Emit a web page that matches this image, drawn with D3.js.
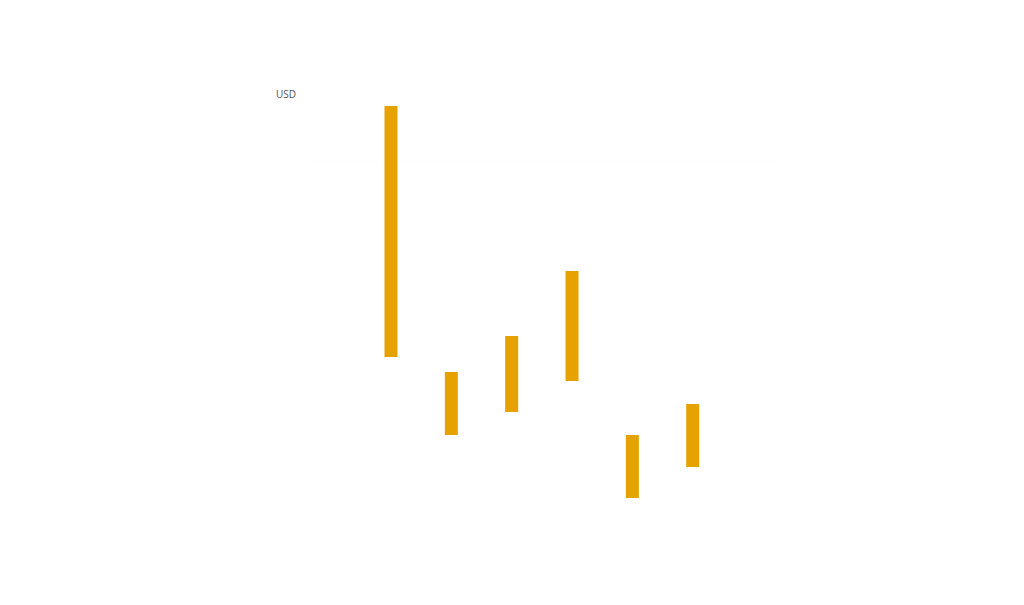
<!DOCTYPE html>
<html>
<head>
<meta charset="utf-8">
<script src="https://cdn.jsdelivr.net/npm/d3@7"></script>
<style>
  html, body { margin: 0; padding: 0; background: #fff; }
  svg { display: block; font-family: "Open Sans", sans-serif; }
</style>
</head>
<body>
<svg width="1024" height="605"></svg>
<script>
const CATEGORIES = ['1', '2', '3', '4', '5', '6']
const HIGH = [414, 148, 184, 249, 85, 116]
const LOW = [163, 85, 108, 139, 22, 53]
const GRID = [358]

const svg = d3.select('svg')
const color = '#e6a200'
const barWidth = 13

const x = d3.scalePoint()
  .domain(CATEGORIES)
  .range([391, 692.7])
const y = d3.scaleLinear()
  .domain([0, 420])
  .range([520, 100])

const data = CATEGORIES.map((c, i) => ({ cat: c, high: HIGH[i], low: LOW[i] }))

// the grid is almost invisible in the original
svg.append('g')
  .selectAll('line')
  .data(GRID)
  .enter().append('line')
  .attr('x1', 310)
  .attr('x2', 780)
  .attr('y1', d => y(d) + 0.5)
  .attr('y2', d => y(d) + 0.5)
  .attr('stroke', '#fdfdfd')

svg.append('text')
  .attr('x', 276)
  .attr('y', 98)
  .attr('font-size', 10)
  .attr('fill', '#555')
  .text('USD')

svg.append('g')
  .selectAll('rect')
  .data(data)
  .enter().append('rect')
  .attr('x', d => x(d.cat) - barWidth / 2)
  .attr('width', barWidth)
  .attr('y', d => y(d.high))
  .attr('height', d => y(d.low) - y(d.high))
  .attr('fill', color)
</script>
</body>
</html>
